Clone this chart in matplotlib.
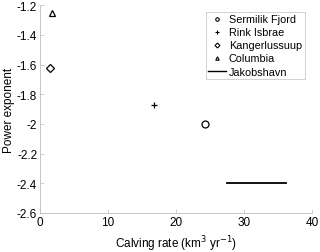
import matplotlib
matplotlib.use("Agg")
import matplotlib.pyplot as plt
from matplotlib.lines import Line2D

plt.rcParams["font.family"] = ["Liberation Sans", "DejaVu Sans"]

# point glaciers: calving rate (km3/yr), power exponent
names = ["Sermilik Fjord", "Rink Isbrae", "Kangerlussuup", "Columbia"]
rates = [24.3, 16.8, 1.5, 1.7]
exponents = [-2.0, -1.87, -1.62, -1.255]
markers = ["o", "+", "D", "^"]

# Jakobshavn: range of calving rates at one exponent
jak_rates = [27.5, 36.2]
jak_exp = -2.4

fig = plt.figure(figsize=(3.2, 2.53), dpi=100)
ax = fig.add_axes([0.125, 0.155, 0.85, 0.82])

for n, xv, yv, m in zip(names, rates, exponents, markers):
    ms = 4 if m == "D" else 5
    ax.plot(xv, yv, m, color="black", mfc="none", ms=ms, mew=0.9, label=n)
ax.plot(jak_rates, [jak_exp, jak_exp], color="black", lw=1.3, label="Jakobshavn")

ax.set_xlim(0, 40)
ax.set_ylim(-2.6, -1.2)
ax.set_xticks([0, 10, 20, 30, 40])
ax.set_yticks([-2.6, -2.4, -2.2, -2, -1.8, -1.6, -1.4, -1.2])
ax.set_yticklabels(["-2.6", "-2.4", "-2.2", "-2", "-1.8", "-1.6", "-1.4", "-1.2"])
for s in ["top", "right"]:
    ax.spines[s].set_visible(False)
for s in ["left", "bottom"]:
    ax.spines[s].set_color("#bdbdbd")
    ax.spines[s].set_linewidth(0.6)
ax.tick_params(direction="in", length=3, width=0.5, color="#bdbdbd", labelsize=8.5, pad=2)
ax.set_xlabel("Calving rate (km$^3$ yr$^{-1}$)", fontsize=8.5, labelpad=4)
ax.set_ylabel("Power exponent", fontsize=8.5, labelpad=1)

handles = [Line2D([], [], ls="none", marker=m, color="black", mfc="none", ms=2.5, mew=0.8) for m in markers]
handles.append(Line2D([], [], color="black", lw=1))
leg = ax.legend(handles, names + ["Jakobshavn"], loc="upper right", bbox_to_anchor=(0.985, 0.985),
                fontsize=7.8, frameon=True, fancybox=False, handlelength=1.6, handletextpad=0.3,
                borderpad=0.25, labelspacing=0.28, borderaxespad=0.3)
leg.get_frame().set_edgecolor("#bdbdbd")
leg.get_frame().set_linewidth(0.6)

fig.savefig("out.png", dpi=100)
